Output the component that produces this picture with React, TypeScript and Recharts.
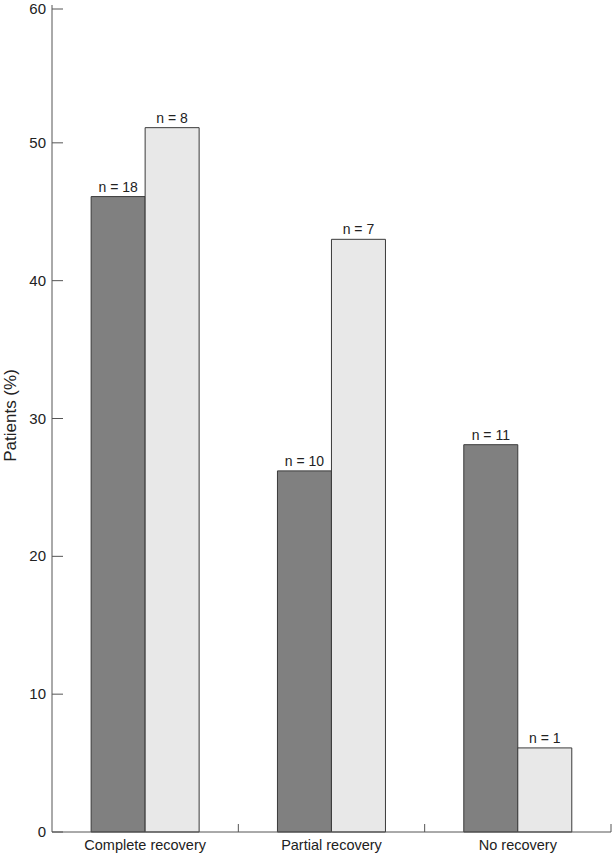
import { BarChart, Bar, XAxis, YAxis, LabelList } from 'recharts'

const categories = ['Complete recovery', 'Partial recovery', 'No recovery']
const groupA = [46.1, 26.2, 28.1]
const groupB = [51.1, 43.0, 6.1]
const countsA = [18, 10, 11]
const countsB = [8, 7, 1]
const yTicks = [0, 10, 20, 30, 40, 50, 60]

const data = categories.map((name, i) => ({
  name,
  a: groupA[i],
  b: groupB[i],
  na: countsA[i],
  nb: countsB[i],
}))

const W = 612
const H = 853
const LEFT = 52
const RIGHT = 1
const BAND = (W - LEFT - RIGHT) / categories.length

const AXIS_COLOR = '#555'
const DARK = '#808080'
const LIGHT = '#e8e8e8'
const FONT = '"Liberation Sans", Arial, sans-serif'

function YTick(props: any) {
  const { x, y, payload } = props
  return (
    <g>
      <line x1={x + 6} x2={x + 17} y1={y} y2={y} stroke={AXIS_COLOR} />
      <text x={x} y={y} dy={5} textAnchor="end" fontSize={15} fill="#222" fontFamily={FONT}>
        {payload.value}
      </text>
    </g>
  )
}

function XTick(props: any) {
  const { x, y, payload } = props
  const edge = x + BAND / 2
  return (
    <g>
      <line x1={edge} x2={edge} y1={y - 15} y2={y - 7} stroke={AXIS_COLOR} />
      <text x={x} y={y} dy={11} textAnchor="middle" fontSize={14.5} fill="#222" fontFamily={FONT}>
        {payload.value}
      </text>
    </g>
  )
}

export default function App() {
  return (
    <div style={{ position: 'absolute', left: 0, top: 0, background: '#fff' }}>
      <BarChart
        width={W}
        height={H}
        data={data}
        margin={{ top: 5, right: RIGHT, bottom: 0, left: 0 }}
        barCategoryGap="21%"
        barGap={0}
      >
        <XAxis
          dataKey="name"
          height={21}
          tickLine={false}
          tickSize={0}
          tickMargin={7}
          stroke={AXIS_COLOR}
          tick={<XTick />}
          interval={0}
        />
        <YAxis
          width={LEFT}
          domain={[0, 60]}
          ticks={yTicks}
          tickLine={false}
          tickSize={0}
          tickMargin={6}
          stroke={AXIS_COLOR}
          tick={<YTick />}
          label={{
            value: 'Patients (%)',
            angle: -90,
            position: 'insideLeft',
            offset: 10,
            dy: -3,
            style: { textAnchor: 'middle', fontSize: 17, fill: '#222', fontFamily: FONT },
          }}
        />
        <Bar dataKey="a" fill={DARK} stroke="#3a3a3a" strokeWidth={1} isAnimationActive={false}>
          <LabelList
            dataKey="na"
            position="top"
            formatter={(v: any) => `n = ${v}`}
            style={{ fontSize: 14, fill: '#222', fontFamily: FONT }}
          />
        </Bar>
        <Bar dataKey="b" fill={LIGHT} stroke="#3a3a3a" strokeWidth={1} isAnimationActive={false}>
          <LabelList
            dataKey="nb"
            position="top"
            formatter={(v: any) => `n = ${v}`}
            style={{ fontSize: 14, fill: '#222', fontFamily: FONT }}
          />
        </Bar>
      </BarChart>
    </div>
  )
}
